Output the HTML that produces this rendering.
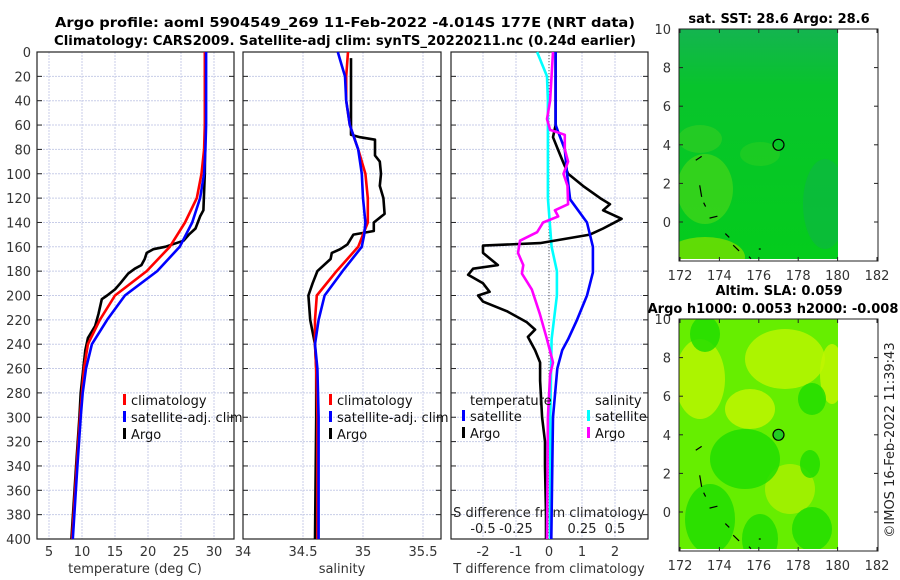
<!DOCTYPE html>
<html><head><meta charset="utf-8">
<style>
html,body{margin:0;padding:0;background:#fff;}
svg{display:block;font-family:"DejaVu Sans","Liberation Sans",sans-serif;}
</style></head>
<body>
<svg id="fig" width="900" height="580" viewBox="0 0 900 580" xmlns="http://www.w3.org/2000/svg">
<text x="345" y="27" text-anchor="middle" font-size="13.5" font-weight="bold" textLength="580" lengthAdjust="spacingAndGlyphs">Argo profile: aoml 5904549_269 11-Feb-2022 -4.014S 177E (NRT data)</text>
<text x="345" y="45" text-anchor="middle" font-size="13.5" font-weight="bold" textLength="582" lengthAdjust="spacingAndGlyphs">Climatology: CARS2009. Satellite-adj clim: synTS_20220211.nc (0.24d earlier)</text>
<text x="779" y="23" text-anchor="middle" font-size="13" font-weight="bold">sat. SST: 28.6 Argo: 28.6</text>
<text x="779" y="295" text-anchor="middle" font-size="13" font-weight="bold">Altim. SLA: 0.059</text>
<text x="773" y="313" text-anchor="middle" font-size="13" font-weight="bold">Argo h1000: 0.0053 h2000: -0.008</text>
<text transform="translate(894,440) rotate(-90)" text-anchor="middle" font-size="13" fill="#222">©IMOS 16-Feb-2022 11:39:43</text>
<g id="g"></g>
</svg>
<script>
// depth axis
const depthTicks=[0,20,40,60,80,100,120,140,160,180,200,220,240,260,280,300,320,340,360,380,400];
// temperature panel
const tTicks=[5,10,15,20,25,30];
const tClimD=[0,60,80,100,120,140,160,180,200,220,240,260,280,300,340,400];
const tClim=[28.6,28.6,28.5,28.1,27.4,25.6,23.3,19.8,15.0,12.7,10.9,10.3,10.0,9.7,9.2,8.5];
const tSatD=[0,60,80,100,120,140,160,180,200,220,240,260,280,300,340,400];
const tSat=[28.8,28.8,28.7,28.5,27.9,26.7,24.8,21.4,16.5,13.8,11.5,10.6,10.1,9.8,9.3,8.6];
const tArgoD=[5,60,100,130,135,145,150,155,160,162,165,170,175,178,182,190,195,200,203,215,225,235,245,260,280,300,340,400];
const tArgo=[28.7,28.7,28.6,28.4,27.9,27.2,26.2,25.4,22.6,20.8,19.8,19.5,19.0,18.0,17.0,15.8,15.0,13.8,13.0,12.5,12.0,10.9,10.5,10.2,9.8,9.6,9.1,8.4];
// salinity panel
const sTicks=[34,34.5,35,35.5];
const sClimD=[0,20,40,60,80,100,120,140,160,180,200,220,240,260,300,400];
const sClim=[34.875,34.86,34.86,34.89,34.96,35.02,35.04,35.04,34.96,34.78,34.615,34.6,34.6,34.61,34.62,34.62];
const sSatD=[0,10,20,40,60,80,100,120,140,150,160,180,200,220,240,260,300,400];
const sSat=[34.79,34.82,34.85,34.86,34.89,34.96,34.99,35.0,35.02,35.01,34.99,34.83,34.68,34.63,34.6,34.62,34.63,34.63];
const sArgoD=[5,60,68,70,72,85,90,100,110,120,133,140,147,150,158,162,165,170,180,190,200,220,240,260,300,400];
const sArgo=[34.9,34.9,34.9,34.975,35.1,35.1,35.14,35.15,35.14,35.17,35.18,35.09,35.09,34.92,34.87,34.81,34.74,34.73,34.62,34.58,34.545,34.56,34.6,34.61,34.61,34.6];
// difference panel
const dTicks=[-2,-1,0,1,2];
const dsTickLabels=["-0.5","-0.25","0","0.25","0.5"];
const dTSatD=[0,60,80,100,121,140,160,181,200,220,236,245,255,260,300,340,400];
const dTSat=[0.2,0.2,0.48,0.55,0.64,1.15,1.33,1.33,1.15,0.85,0.58,0.4,0.3,0.25,0.12,0.1,0.07];
const dTArgoD=[0,60,70,80,90,100,110,120,125,130,137,145,150,157,159,165,175,178,183,190,197,200,205,213,222,228,234,245,255,270,300,320,340,380,400];
const dTArgo=[0.2,0.2,0.12,0.27,0.42,0.58,1.03,1.55,1.85,1.64,2.2,1.64,1.24,-0.27,-2.0,-2.0,-1.55,-2.3,-2.45,-2.0,-1.8,-2.15,-2.0,-1.27,-0.67,-0.42,-0.64,-0.42,-0.27,-0.27,-0.21,-0.12,-0.12,-0.09,-0.09];
const dSSatD=[0,20,40,80,120,160,180,200,236,300,400];
const dSSat=[-0.09,-0.015,-0.008,-0.008,-0.008,0.02,0.06,0.06,0.02,0.01,0.008];
const dSArgoD=[0,40,55,64,68,80,90,100,110,125,130,135,140,148,155,165,175,182,195,215,236,255,265,300,400];
const dSArgo=[0.03,0.008,-0.015,0.008,0.12,0.12,0.145,0.11,0.14,0.145,0.045,0.07,-0.045,-0.09,-0.22,-0.235,-0.195,-0.205,-0.13,-0.07,-0.015,0.03,0.008,-0.008,-0.015];
// maps
const lonTicks=[172,174,176,178,180,182];
const latTicks=[10,8,6,4,2,0];
const argoLon=177, argoLat=4;

const NS="http://www.w3.org/2000/svg";
const G=document.getElementById('g');
function mk(tag,attrs,parent){const e=document.createElementNS(NS,tag);for(const k in attrs)e.setAttribute(k,attrs[k]);(parent||G).appendChild(e);return e;}
const yD=d=>52+d*(487/400);
const xT=t=>49+(t-5)*6.6;
const xS=s=>243+(s-34)*120;
const xDT=v=>549+v*33;
const xDS=v=>549+v*132;
const panels=[[37,234],[243,441],[451,648]];

panels.forEach((p,i)=>{
  const grid=mk('g',{});
  
  
  depthTicks.forEach(d=>{
    mk('line',{x1:p[0],x2:p[1],y1:yD(d),y2:yD(d),stroke:'#c8cde8','stroke-width':1,'stroke-dasharray':'2,1'},grid);
    mk('line',{x1:p[0],x2:p[0]+5,y1:yD(d),y2:yD(d),stroke:'#222'},grid);
    mk('line',{x1:p[1]-5,x2:p[1],y1:yD(d),y2:yD(d),stroke:'#222'},grid);
  });
  let xs=[];
  if(i==0)xs=tTicks.map(xT);if(i==1)xs=sTicks.map(xS);if(i==2)xs=dTicks.map(xDT);
  xs.forEach(x=>{if(x>p[0]+1&&x<p[1]-1)mk('line',{x1:x,x2:x,y1:52,y2:539,stroke:'#c8cde8','stroke-dasharray':'2,1'},grid);});
  const fr=mk('rect',{x:p[0],y:52,width:p[1]-p[0],height:487,fill:'none',stroke:'#222','stroke-width':1.2});
  
  
});
depthTicks.forEach(d=>{
  const t=mk('text',{x:31,y:yD(d)+5,'text-anchor':'end','font-size':13,fill:'#333'});
  
  
  t.textContent=d;
});
tTicks.forEach(v=>{const t=mk('text',{x:xT(v),y:556,'text-anchor':'middle','font-size':13,fill:'#333'});
  
  
  t.textContent=v;});
sTicks.forEach(v=>{const t=mk('text',{x:xS(v),y:556,'text-anchor':'middle','font-size':13,fill:'#333'});
  
  
  t.textContent=v;});
dTicks.forEach(v=>{const t=mk('text',{x:xDT(v),y:556,'text-anchor':'middle','font-size':13,fill:'#333'});
  
  
  t.textContent=v;});
dsTickLabels.forEach((v,i)=>{const t=mk('text',{x:xDT(dTicks[i]),y:533,'text-anchor':'middle','font-size':13,fill:'#222'});
  
  
  t.textContent=v;});
[['temperature (deg C)',135,'temp-axis-title'],['salinity',342,'salinity-axis-title'],['T difference from climatology',549,'tdiff-axis-title']].forEach(a=>{
  const t=mk('text',{x:a[1],y:573,'text-anchor':'middle','font-size':13,fill:'#333'});
  
  
  t.textContent=a[0];});
{const t=mk('text',{x:549,y:517,'text-anchor':'middle','font-size':13,fill:'#222'});
  
  
  t.textContent='S difference from climatology';}
{const l=mk('line',{x1:549,x2:549,y1:52,y2:539,stroke:'#555','stroke-dasharray':'1,2'});
  
  }

function series(D,V,fx,color,name){
  const pts=D.map((d,i)=>fx(V[i]).toFixed(1)+','+yD(d).toFixed(1)).join(' ');
  const e=mk('polyline',{points:pts,fill:'none',stroke:color,'stroke-width':2.6,'stroke-linejoin':'round'});
  
  
}
series(tArgoD,tArgo,xT,'#000','temp-argo-line');
series(tClimD,tClim,xT,'#ff0000','temp-climatology-line');
series(tSatD,tSat,xT,'#0000ff','temp-satellite-line');
series(sArgoD,sArgo,xS,'#000','salinity-argo-line');
series(sClimD,sClim,xS,'#ff0000','salinity-climatology-line');
series(sSatD,sSat,xS,'#0000ff','salinity-satellite-line');
series(dSSatD,dSSat,xDS,'#00ffff','sdiff-satellite-line');
series(dTArgoD,dTArgo,xDT,'#000','tdiff-argo-line');
series(dTSatD,dTSat,xDT,'#0000ff','tdiff-satellite-line');
series(dSArgoD,dSArgo,xDS,'#ff00ff','sdiff-argo-line');

function leg(x,y,color,label,name){
  const g=mk('g',{});
  
  
  if(color)mk('rect',{x:x-8,y:y-11,width:3,height:11,fill:color},g);
  const t=mk('text',{x:x,y:y,'font-size':13,fill:'#111'},g);t.textContent=label;
}
[[37],[243]].forEach((p,i)=>{
  const b=p[0]+94;
  leg(b,405,'#ff0000','climatology','legend-climatology-'+(i+1));
  leg(b,422,'#0000ff','satellite-adj. clim','legend-satellite-'+(i+1));
  leg(b,439,'#000','Argo','legend-argo-'+(i+1));
});
leg(470,405,null,'temperature','legend-temperature-header');
leg(470,421,'#0000ff','satellite','legend-tdiff-satellite');
leg(470,438,'#000','Argo','legend-tdiff-argo');
leg(595,405,null,'salinity','legend-salinity-header');
leg(595,421,'#00ffff','satellite','legend-sdiff-satellite');
leg(595,438,'#ff00ff','Argo','legend-sdiff-argo');

const xL=l=>680+(l-172)*19.7;
const yL=(top,l)=>top+(10-l)*19.3;
function map(top,kind){
  const g=mk('g',{});
  
  
  const x0=679,x1=838;
  const id='gr'+kind;
  const defs=mk('defs',{},g);
  const cp=mk('clipPath',{id:'cp'+kind},defs);
  mk('rect',{x:x0,y:top,width:x1-x0,height:230},cp);
  const inner=mk('g',{'clip-path':'url(#cp'+kind+')'},g);
  if(kind==='sst'){
    const lg=mk('linearGradient',{id:id,x1:0,y1:0,x2:0,y2:1},defs);
    mk('stop',{offset:'0','stop-color':'#14b450'},lg);
    mk('stop',{offset:'0.25','stop-color':'#08c42c'},lg);
    mk('stop',{offset:'1','stop-color':'#04cc1c'},lg);
    mk('rect',{x:x0,y:top,width:x1-x0,height:230,fill:'url(#'+id+')'},inner);
    mk('ellipse',{cx:705,cy:top+160,rx:28,ry:35,fill:'#50d818',opacity:0.6},inner);
    mk('ellipse',{cx:700,cy:top+110,rx:22,ry:14,fill:'#40d020',opacity:0.5},inner);
    mk('ellipse',{cx:760,cy:top+125,rx:20,ry:12,fill:'#30d020',opacity:0.5},inner);
    mk('ellipse',{cx:705,cy:top+228,rx:40,ry:20,fill:'#78e000',opacity:0.8},inner);
    mk('ellipse',{cx:825,cy:top+175,rx:22,ry:45,fill:'#10b050',opacity:0.5},inner);
  } else {
    mk('rect',{x:x0,y:top,width:x1-x0,height:230,fill:'#66ee00'},inner);
    [[700,60,25,40,'#b8f400'],[785,40,40,30,'#b8f400'],[750,90,25,20,'#c0f400'],[832,55,12,30,'#c0f400'],[790,170,25,25,'#a8f000']].forEach(b=>mk('ellipse',{cx:b[0],cy:top+b[1],rx:b[2],ry:b[3],fill:b[4],opacity:0.85},inner));
    [[705,15,15,18],[745,140,35,30],[710,200,25,35],[760,220,18,25],[812,210,20,22],[812,80,14,16],[810,145,10,14]].forEach(b=>mk('ellipse',{cx:b[0],cy:top+b[1],rx:b[2],ry:b[3],fill:'#22dd00',opacity:0.85},inner));
  }
  [[172.8,3.2,173.1,3.4],[173.0,1.9,173.1,1.3],[173.2,1.0,173.3,0.8],[173.5,0.2,173.9,0.3],[174.3,-0.6,174.5,-0.8],[174.7,-1.2,175.0,-1.5],[176.0,-1.4,176.1,-1.4],[175.5,-1.8,175.6,-1.9]].forEach(c=>mk('line',{x1:xL(c[0]),y1:yL(top,c[1]),x2:xL(c[2]),y2:yL(top,c[3]),stroke:'#000','stroke-width':1.2},g));
  const circ=mk('circle',{cx:xL(argoLon),cy:yL(top,argoLat),r:5.5,fill:kind==='sst'?'none':'#22cc22',stroke:'#000','stroke-width':1.2},g);
  
  
  mk('rect',{x:679,y:top,width:199,height:232,fill:'none',stroke:'#222','stroke-width':1},g);
  lonTicks.forEach(l=>{
    mk('line',{x1:xL(l),x2:xL(l),y1:top+232,y2:top+228,stroke:'#222'},g);
    mk('line',{x1:xL(l),x2:xL(l),y1:top,y2:top+4,stroke:'#222'},g);
    const t=mk('text',{x:xL(l),y:top+251,'text-anchor':'middle','font-size':13,fill:'#333'},g);
    
    
    t.textContent=l;
  });
  latTicks.forEach(l=>{
    mk('line',{x1:679,x2:683,y1:yL(top,l),y2:yL(top,l),stroke:'#222'},g);
    mk('line',{x1:874,x2:878,y1:yL(top,l),y2:yL(top,l),stroke:'#222'},g);
    const t=mk('text',{x:671,y:yL(top,l)+5,'text-anchor':'end','font-size':13,fill:'#333'},g);
    
    
    t.textContent=l;
  });
}
map(29,'sst');
map(319,'sla');
</script>
</body></html>
